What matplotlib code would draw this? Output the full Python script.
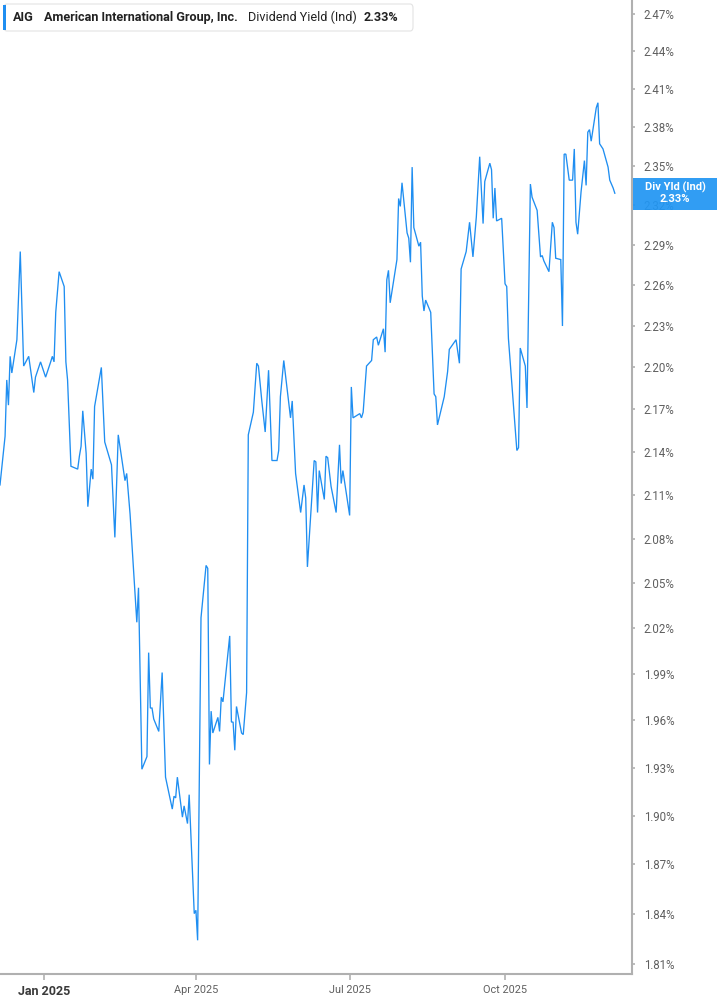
import numpy as np
import pandas as pd
from matplotlib import pyplot as plt
from matplotlib import ticker
from matplotlib.patches import FancyBboxPatch, Rectangle

# ---- data ----
dates = [
    "2024-12-06", "2024-12-09", "2024-12-10", "2024-12-11", "2024-12-12", "2024-12-13", "2024-12-16",
    "2024-12-18", "2024-12-20", "2024-12-23", "2024-12-26", "2024-12-27", "2024-12-30",
    "2025-01-02", "2025-01-05", "2025-01-06", "2025-01-07", "2025-01-08", "2025-01-10", "2025-01-13",
    "2025-01-14", "2025-01-15", "2025-01-17", "2025-01-21", "2025-01-22", "2025-01-23", "2025-01-24",
    "2025-01-26", "2025-01-27", "2025-01-29", "2025-01-30", "2025-01-31",
    "2025-02-02", "2025-02-04", "2025-02-06", "2025-02-10", "2025-02-12", "2025-02-14", "2025-02-18",
    "2025-02-19", "2025-02-21", "2025-02-25", "2025-02-26", "2025-02-28",
    "2025-03-03", "2025-03-04", "2025-03-05", "2025-03-06", "2025-03-07", "2025-03-10", "2025-03-12",
    "2025-03-14", "2025-03-18", "2025-03-19", "2025-03-20", "2025-03-21", "2025-03-24", "2025-03-25",
    "2025-03-27", "2025-03-28", "2025-03-31",
    "2025-04-01", "2025-04-02", "2025-04-04", "2025-04-07", "2025-04-08", "2025-04-09", "2025-04-10",
    "2025-04-11", "2025-04-14", "2025-04-15", "2025-04-16", "2025-04-17", "2025-04-21", "2025-04-22",
    "2025-04-23", "2025-04-24", "2025-04-25", "2025-04-28", "2025-04-29",
    "2025-05-01", "2025-05-02", "2025-05-05", "2025-05-07", "2025-05-08", "2025-05-10", "2025-05-12",
    "2025-05-14", "2025-05-16", "2025-05-19", "2025-05-20", "2025-05-21", "2025-05-23", "2025-05-27",
    "2025-05-28", "2025-05-30",
    "2025-06-02", "2025-06-04", "2025-06-05", "2025-06-06", "2025-06-10", "2025-06-11", "2025-06-12",
    "2025-06-13", "2025-06-16", "2025-06-17", "2025-06-18", "2025-06-20", "2025-06-23", "2025-06-25",
    "2025-06-26", "2025-06-27",
    "2025-07-01", "2025-07-02", "2025-07-03", "2025-07-07", "2025-07-08", "2025-07-09", "2025-07-11",
    "2025-07-14", "2025-07-15", "2025-07-17", "2025-07-18", "2025-07-21", "2025-07-22", "2025-07-23",
    "2025-07-24", "2025-07-25", "2025-07-29", "2025-07-30", "2025-07-31",
    "2025-08-01", "2025-08-04", "2025-08-05", "2025-08-06", "2025-08-07", "2025-08-08", "2025-08-11",
    "2025-08-12", "2025-08-13", "2025-08-14", "2025-08-15", "2025-08-18", "2025-08-20", "2025-08-21",
    "2025-08-22", "2025-08-26", "2025-08-28", "2025-08-29",
    "2025-09-02", "2025-09-04", "2025-09-05", "2025-09-08", "2025-09-10", "2025-09-12", "2025-09-14",
    "2025-09-16", "2025-09-18", "2025-09-19", "2025-09-22", "2025-09-23", "2025-09-24", "2025-09-25",
    "2025-09-26", "2025-09-29",
    "2025-10-01", "2025-10-02", "2025-10-03", "2025-10-08", "2025-10-09", "2025-10-10", "2025-10-13",
    "2025-10-14", "2025-10-16", "2025-10-17", "2025-10-20", "2025-10-22", "2025-10-23", "2025-10-24",
    "2025-10-27", "2025-10-29", "2025-10-30", "2025-10-31",
    "2025-11-03", "2025-11-04", "2025-11-05", "2025-11-06", "2025-11-08", "2025-11-10", "2025-11-11",
    "2025-11-12", "2025-11-13", "2025-11-15", "2025-11-17", "2025-11-18", "2025-11-19", "2025-11-20",
    "2025-11-21", "2025-11-24", "2025-11-25", "2025-11-26", "2025-11-28",
    "2025-12-01", "2025-12-02", "2025-12-04", "2025-12-05",
]

div_yield = [
    2.117, 2.151, 2.191, 2.173, 2.208, 2.196, 2.220, 2.285, 2.201, 2.208, 2.182, 2.193, 2.204,
    2.193, 2.204, 2.208, 2.204, 2.240, 2.270, 2.259, 2.204, 2.191, 2.130, 2.128, 2.137, 2.144, 2.169,
    2.139, 2.102, 2.128, 2.121, 2.172,
    2.186, 2.200, 2.147, 2.131, 2.081, 2.152, 2.120, 2.125, 2.097, 2.024, 2.047, 1.929,
    1.937, 2.004, 1.968, 1.968, 1.961, 1.953, 1.991, 1.924, 1.904, 1.912, 1.911, 1.924, 1.899, 1.906,
    1.895, 1.913, 1.840,
    1.842, 1.824, 2.027, 2.062, 2.060, 1.932, 1.966, 1.952, 1.962, 1.953, 1.975, 1.972, 2.015, 1.959,
    1.959, 1.941, 1.969, 1.952, 1.951,
    1.978, 2.152, 2.168, 2.203, 2.201, 2.176, 2.154, 2.198, 2.134, 2.134, 2.141, 2.179, 2.205, 2.164,
    2.176, 2.125,
    2.098, 2.117, 2.108, 2.061, 2.134, 2.133, 2.098, 2.127, 2.107, 2.137, 2.136, 2.116, 2.098, 2.145,
    2.118, 2.127,
    2.096, 2.186, 2.164, 2.167, 2.164, 2.168, 2.201, 2.205, 2.220, 2.222, 2.216, 2.228, 2.211, 2.264,
    2.271, 2.247, 2.279, 2.325, 2.319,
    2.337, 2.299, 2.295, 2.277, 2.349, 2.303, 2.289, 2.292, 2.252, 2.241, 2.249, 2.240, 2.181, 2.179,
    2.159, 2.179, 2.197, 2.213,
    2.220, 2.203, 2.272, 2.285, 2.307, 2.281, 2.311, 2.357, 2.306, 2.338, 2.352, 2.347, 2.310, 2.333,
    2.308, 2.310,
    2.261, 2.259, 2.221, 2.141, 2.143, 2.214, 2.201, 2.171, 2.336, 2.326, 2.316, 2.281, 2.282, 2.278,
    2.270, 2.307, 2.303, 2.280,
    2.279, 2.230, 2.359, 2.359, 2.339, 2.339, 2.363, 2.307, 2.298, 2.330, 2.354, 2.335, 2.376, 2.378,
    2.369, 2.395, 2.399, 2.367, 2.363,
    2.349, 2.339, 2.333, 2.329,
]

y_ticks = [1.81, 1.84, 1.87, 1.90, 1.93, 1.96, 1.99, 2.02, 2.05, 2.08, 2.11, 2.14, 2.17, 2.20,
           2.23, 2.26, 2.29, 2.32, 2.35, 2.38, 2.41, 2.44, 2.47]
x_ticks = ["2025-01-01", "2025-04-01", "2025-07-01", "2025-10-01"]
x_tick_labels = ["Jan 2025", "Apr 2025", "Jul 2025", "Oct 2025"]

ticker_name = "AIG"
company = "American International Group, Inc."
metric = "Dividend Yield (Ind)"
last_value = "2.33%"

LINE_COLOR = "#1f8ef1"
GREY = "#5f5f5f"
SPINE = "#b0b0b0"

plt.rcParams['font.family'] = ['Roboto', 'DejaVu Sans']

W, H = 717, 1005
fig = plt.figure(figsize=(W / 100, H / 100), dpi=100)
ax = fig.add_axes([0, 31 / H, 632 / W, 1 - 31 / H])

x = pd.to_datetime(dates)
ax.plot(x, div_yield, color=LINE_COLOR, lw=0.95, solid_joinstyle='miter')

ax.set_yscale('log')
ax.set_ylim(1.804, 2.481)
ax.set_xlim(pd.Timestamp("2024-12-06"), pd.Timestamp("2025-12-15 04:00"))

ax.yaxis.set_major_locator(ticker.FixedLocator(y_ticks))
ax.yaxis.set_minor_locator(ticker.NullLocator())
ax.yaxis.set_major_formatter(ticker.FuncFormatter(lambda v, p: f"{v:.2f}%"))
ax.yaxis.tick_right()
ax.tick_params(axis='y', length=2.5, width=1.2, color=SPINE, labelcolor=GREY,
               labelsize=8.3, pad=6)

ax.set_xticks(pd.to_datetime(x_ticks))
ax.set_xticklabels(x_tick_labels)
ax.xaxis.set_minor_locator(ticker.NullLocator())
ax.tick_params(axis='x', length=4, width=1.2, color=SPINE, labelcolor=GREY,
               labelsize=7.8, pad=4)
for i, lbl in enumerate(ax.get_xticklabels()):
    if i == 0:
        lbl.set_fontweight('bold')
        lbl.set_fontsize(9)
        lbl.set_color('#3a3a3a')

for s in ['left', 'top']:
    ax.spines[s].set_visible(False)
for s in ['right', 'bottom']:
    ax.spines[s].set_color(SPINE)
    ax.spines[s].set_linewidth(1.5)


def fx(px):
    return px / W


def fy(py):
    return 1 - py / H


# header box, top left
fig.patches.append(FancyBboxPatch((fx(4), fy(31)), fx(409), 27 / H,
                                  boxstyle="round,pad=0,rounding_size=0.004",
                                  transform=fig.transFigure, facecolor='white',
                                  edgecolor='#e3e3e3', lw=0.8, zorder=5))
fig.patches.append(Rectangle((fx(3), fy(30)), fx(3), 25 / H, transform=fig.transFigure,
                             facecolor=LINE_COLOR, edgecolor='none', zorder=6))
hy = fy(17.5)
fig.text(fx(13), hy, ticker_name, fontsize=9.1, fontweight='bold', color='#222222',
         va='center', zorder=7)
fig.text(fx(44), hy, company, fontsize=9.1, fontweight='bold', color='#222222',
         va='center', zorder=7)
fig.text(fx(248), hy, metric, fontsize=9.1, color='#222222', va='center', zorder=7)
fig.text(fx(364), hy, last_value, fontsize=9.1, fontweight='bold', color='#222222',
         va='center', zorder=7)

# last value tag on the right axis
fig.patches.append(Rectangle((fx(633), fy(210)), fx(84), 32 / H, transform=fig.transFigure,
                             facecolor='#2196f3', edgecolor='none', alpha=0.93, zorder=5))
fig.text(fx(675), fy(187.5), "Div Yld (Ind)", fontsize=8, fontweight='bold', color='white',
         ha='center', va='center', zorder=7)
fig.text(fx(675), fy(199.5), last_value, fontsize=8, fontweight='bold', color='white',
         ha='center', va='center', zorder=7)

plt.savefig("out.png", dpi=100)
